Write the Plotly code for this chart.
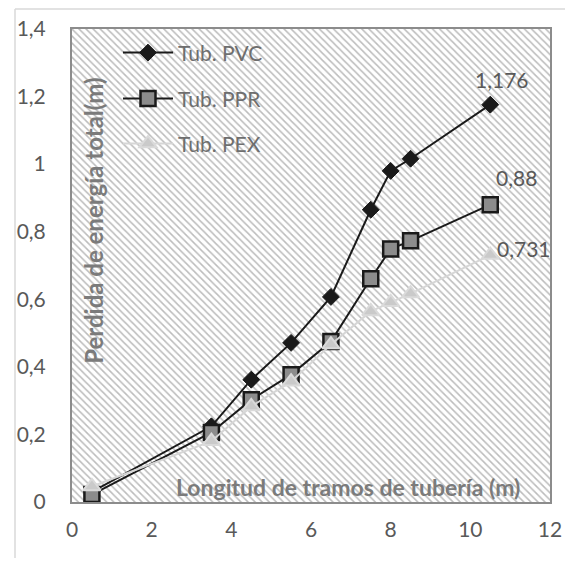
import plotly.graph_objects as go

# ---- data ----
x_len = [0.5, 3.5, 4.5, 5.5, 6.5, 7.5, 8.0, 8.5, 10.5]
pvc = [0.03, 0.224, 0.362, 0.471, 0.607, 0.865, 0.980, 1.016, 1.176]
ppr = [0.022, 0.206, 0.303, 0.377, 0.475, 0.661, 0.749, 0.773, 0.880]
pex = [0.046, 0.180, 0.283, 0.356, 0.466, 0.564, 0.591, 0.617, 0.731]
names = ["Tub. PVC", "Tub. PPR", "Tub. PEX"]
x_range = [0, 12]
y_range = [0, 1.4]
x_ticks = [0, 2, 4, 6, 8, 10, 12]
y_ticks = [0, 0.2, 0.4, 0.6, 0.8, 1.0, 1.2, 1.4]
y_ticktext = ["0", "0,2", "0,4", "0,6", "0,8", "1", "1,2", "1,4"]

# page body has an 8px default margin on every side; keep figure inside viewport
OFF = 8
SW, SH = 573, 566            # screen size
W, H = SW - 2 * OFF, SH - 2 * OFF    # figure size
PL, PR, PT, PB = 72, 550, 29, 502.5   # plot area in screen px
L, T = PL - OFF, PT - OFF
R, B = (OFF + W) - PR, (OFF + H) - PB
pw, ph = PR - PL, PB - PT


def px(sx):
    return (sx - PL) / pw


def py(sy):
    return (PB - sy) / ph


FONT = "Lato"
TICK_COL = "#595959"
TITLE_COL = "#7b7b7b"
FS = 21

fig = go.Figure()

# hatched plot-area background
fig.add_trace(go.Scatter(
    x=[x_range[0], x_range[1], x_range[1], x_range[0], x_range[0]],
    y=[y_range[0], y_range[0], y_range[1], y_range[1], y_range[0]],
    mode="none", fill="toself", fillcolor="white",
    fillpattern=dict(shape="\\", size=5, solidity=0.3,
                     fgcolor="#bcbcbc", bgcolor="white", fillmode="replace"),
    hoverinfo="skip", showlegend=False,
))

fig.add_trace(go.Scatter(
    x=x_len, y=pvc, name=names[0], mode="lines+markers",
    line=dict(color="#1a1a1a", width=2),
    marker=dict(symbol="diamond", size=13, color="#1a1a1a",
                line=dict(color="#1a1a1a", width=1)),
    legend="legend",
))
fig.add_trace(go.Scatter(
    x=x_len, y=ppr, name=names[1], mode="lines+markers",
    line=dict(color="#1a1a1a", width=2),
    marker=dict(symbol="square", size=15, color="#8c8c8c",
                line=dict(color="#1a1a1a", width=2.5)),
    legend="legend2",
))
fig.add_trace(go.Scatter(
    x=x_len, y=pex, name=names[2], mode="lines+markers",
    line=dict(color="#d6d6d6", width=2),
    marker=dict(symbol="triangle-up", size=15, color="#cacaca",
                line=dict(color="#dadada", width=2)),
    legend="legend3",
))

# data labels on last points
label_shift = [(12, 25), (26, 27), (34, 7)]
for series, (dx, dy) in zip([pvc, ppr, pex], label_shift):
    txt = f"{series[-1]:g}".replace(".", ",")
    fig.add_annotation(x=x_len[-1], y=series[-1], text=txt, showarrow=False,
                       xshift=dx, yshift=dy, xanchor="center", yanchor="middle",
                       font=dict(family=FONT, size=FS, color=TICK_COL))

# axis titles inside plot
fig.add_annotation(xref="paper", yref="paper", x=px(348), y=py(487),
                   xanchor="center", yanchor="middle",
                   text="<b>Longitud de tramos de tubería (m)</b>", showarrow=False,
                   font=dict(family=FONT, size=23, color=TITLE_COL))
fig.add_annotation(xref="paper", yref="paper", x=px(94), y=py(221), textangle=-90,
                   xanchor="center", yanchor="middle",
                   text="<b>Perdida de energía total(m)</b>", showarrow=False,
                   font=dict(family=FONT, size=24, color=TITLE_COL))

# outer chart border (top and left visible)
fig.add_shape(type="line", xref="paper", yref="paper",
              x0=px(15), x1=px(SW + 5), y0=py(9), y1=py(9),
              line=dict(color="#d9d9d9", width=1.5))
fig.add_shape(type="line", xref="paper", yref="paper",
              x0=px(15), x1=px(15), y0=py(9), y1=py(SH + 5),
              line=dict(color="#d9d9d9", width=1.5))

legend_common = dict(font=dict(family=FONT, size=FS, color="#6e6e6e"),
                     bgcolor="rgba(0,0,0,0)", itemwidth=50,
                     xanchor="left", yanchor="middle")
lx = px(118)
fig.update_layout(
    template="none",
    width=W, height=H, autosize=False,
    margin=dict(l=L, r=R, t=T, b=B, pad=0, autoexpand=False),
    paper_bgcolor="white", plot_bgcolor="white",
    legend=dict(x=lx, y=py(53), **legend_common),
    legend2=dict(x=lx, y=py(99), **legend_common),
    legend3=dict(x=lx, y=py(144), **legend_common),
    xaxis=dict(range=x_range, tickvals=x_ticks, showgrid=False, zeroline=False,
               automargin=False,
               showline=True, mirror=True, linecolor="#8c8c8c", linewidth=2,
               ticks="", ticklabelstandoff=8,
               tickfont=dict(family=FONT, size=FS, color=TICK_COL)),
    yaxis=dict(range=y_range, tickvals=y_ticks, ticktext=y_ticktext,
               showgrid=False, zeroline=False, automargin=False,
               showline=True, mirror=True, linecolor="#8c8c8c", linewidth=2,
               ticks="", ticklabelstandoff=20,
               tickfont=dict(family=FONT, size=FS, color=TICK_COL)),
)

fig.write_html("out.html")
